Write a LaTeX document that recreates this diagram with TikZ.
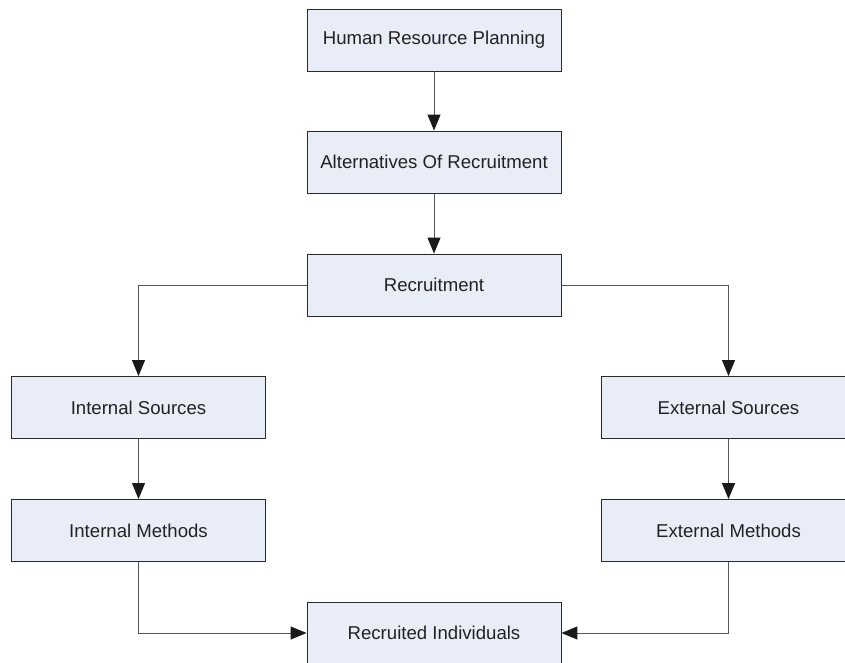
\documentclass[tikz,border=0pt]{standalone}
\usepackage{fontspec}
\setmainfont{Liberation Sans}
\usetikzlibrary{arrows.meta}
\definecolor{boxfill}{HTML}{E8EDF7}
\definecolor{boxline}{HTML}{2A2A2A}
\definecolor{txt}{HTML}{222222}
\definecolor{conn}{HTML}{555555}
\definecolor{tip}{HTML}{1A1A1A}
\tikzset{
  box/.style={draw=boxline, line width=0.9pt, fill=boxfill, minimum width=254pt, minimum height=62pt,
    inner sep=0pt, text=txt, font=\fontsize{18.6pt}{22pt}\selectfont},
  conn/.style={draw=conn, line width=1pt, -{Triangle[length=16pt,width=13pt,color=tip]}}
}
\begin{document}
\begin{tikzpicture}[x=1pt,y=-1pt]
\useasboundingbox (0,0) rectangle (845,663);
\node[box] (hrp) at (434,40) {Human Resource Planning};
\node[box] (alt) at (434,162) {Alternatives Of Recruitment};
\node[box] (rec) at (434,285) {Recruitment};
\node[box] (is) at (138.5,407.5) {Internal Sources};
\node[box] (es) at (728.5,407.5) {External Sources};
\node[box] (im) at (138.5,530.5) {Internal Methods};
\node[box] (em) at (728.5,530.5) {External Methods};
\node[box] (ri) at (434,633) {Recruited Individuals};
\draw[conn] (hrp) -- (alt);
\draw[conn] (alt) -- (rec);
\draw[conn] (rec.west) -| (is.north);
\draw[conn] (rec.east) -| (es.north);
\draw[conn] (is) -- (im);
\draw[conn] (es) -- (em);
\draw[conn] (im.south) |- (ri.west);
\draw[conn] (em.south) |- (ri.east);
\end{tikzpicture}
\end{document}
